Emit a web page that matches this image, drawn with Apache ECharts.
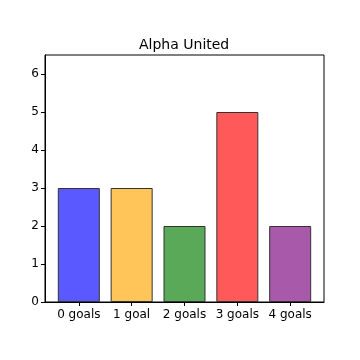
<!DOCTYPE html>
<html><head><meta charset="utf-8">
<script src="https://cdn.jsdelivr.net/npm/echarts@6/dist/echarts.min.js"></script>
<style>html,body{margin:0;padding:0;background:#fff}#c{width:360px;height:360px}</style>
</head><body><div id="c"></div>
<script>
const categories = ["0 goals", "1 goal", "2 goals", "3 goals", "4 goals"];
const values = [3, 3, 2, 5, 2];
const barColors = ["#5959ff", "#ffc559", "#59a959", "#ff5959", "#a959a9"];
const yTicks = [0, 1, 2, 3, 4, 5, 6];
const titleText = "Alpha United";

const chart = echarts.init(document.getElementById('c'), null, {renderer: 'canvas'});
const font = 'DejaVu Sans';
chart.setOption({
  animation: false,
  backgroundColor: '#fff',
  title: {text: titleText, left: 139, top: 38, padding: 0,
    textStyle: {fontFamily: font, fontSize: 14, fontWeight: 'normal', color: '#000'}},
  grid: {left: 45, right: 36, top: 55, bottom: 58, show: true, borderColor: '#000', borderWidth: 1, backgroundColor: 'transparent'},
  xAxis: {type: 'value', min: -0.64, max: 4.64,
    axisLine: {show: true, onZero: false, lineStyle: {color: '#000'}},
    splitLine: {show: false},
    axisTick: {show: true, length: 4, lineStyle: {color: '#000'}, customValues: categories.map((c, i) => i)},
    axisLabel: {customValues: categories.map((c, i) => i), formatter: v => categories[Math.round(v)],
      fontFamily: font, fontSize: 12, color: '#000', margin: 7}},
  yAxis: {type: 'value', min: 0, max: 6.5,
    axisLine: {show: true, onZero: false, lineStyle: {color: '#000'}},
    splitLine: {show: false},
    axisTick: {show: true, length: 4, lineStyle: {color: '#000'}, customValues: yTicks},
    axisLabel: {customValues: yTicks, fontFamily: font, fontSize: 12, color: '#000', margin: 6}},
  series: [{type: 'bar', barWidth: 42,
    data: values.map((v, i) => ({value: [i, v], itemStyle: {color: barColors[i]}})),
    itemStyle: {borderColor: '#333', borderWidth: 1}}]
});
</script></body></html>
